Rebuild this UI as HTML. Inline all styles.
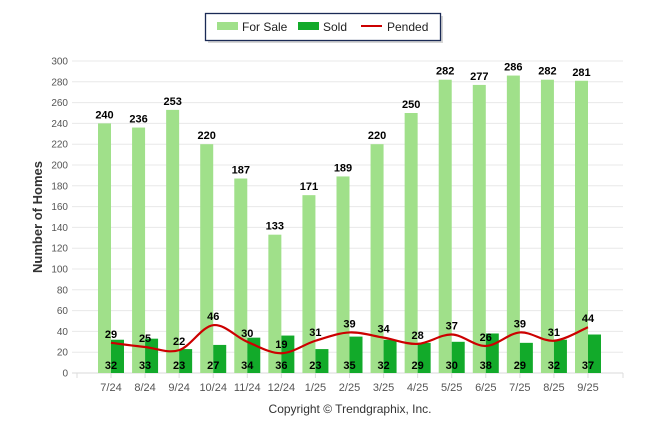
<!DOCTYPE html>
<html><head><meta charset="utf-8"><style>
body{margin:0;background:#fff;}
svg{display:block;font-family:"Liberation Sans",Arial,sans-serif;}
</style></head><body>
<svg id="chart" width="646" height="434" xmlns="http://www.w3.org/2000/svg">
<g>
<rect x="208" y="16" width="235" height="27" fill="#bbb" opacity="0.6"/>
<rect x="205.5" y="13.5" width="235" height="27" fill="#fff" stroke="#1a2a55" stroke-width="1.3"/>
<rect x="217" y="22" width="21" height="8" fill="#a0e08a"/>
<text x="242" y="31" font-size="12" fill="#222">For Sale</text>
<rect x="298" y="22" width="21" height="8" fill="#12aa2a"/>
<text x="323" y="31" font-size="12" fill="#222">Sold</text>
<line x1="361" y1="26" x2="382" y2="26" stroke="#cc0000" stroke-width="2"/>
<text x="387" y="31" font-size="12" fill="#222">Pended</text>
</g>
<g id="grid"></g>
<g id="yaxis"></g>
<g id="xaxis"></g>
<g id="bars"></g>
<g id="line"></g>
<g id="labels"></g>
<text transform="translate(42,217) rotate(-90)" text-anchor="middle" font-size="13" font-weight="bold" fill="#333">Number of Homes</text>
<text x="350" y="413" text-anchor="middle" font-size="12" fill="#333">Copyright © Trendgraphix, Inc.</text>
</svg>
<script>
const categories=["7/24","8/24","9/24","10/24","11/24","12/24","1/25","2/25","3/25","4/25","5/25","6/25","7/25","8/25","9/25"];
const forSale=[240,236,253,220,187,133,171,189,220,250,282,277,286,282,281];
const sold=[32,33,23,27,34,36,23,35,32,29,30,38,29,32,37];
const pended=[29,25,22,46,30,19,31,39,34,28,37,26,39,31,44];
const yTicks=[0,20,40,60,80,100,120,140,160,180,200,220,240,260,280,300];
const NS="http://www.w3.org/2000/svg";
const y0=373,yTop=61,yMax=300,left=72,right=623;
const yS=v=>y0-(v/yMax)*(y0-yTop);
const xS=i=>111+i*(588-111)/(categories.length-1);
function mk(t,a,p,txt){const e=document.createElementNS(NS,t);for(const k in a)e.setAttribute(k,a[k]);if(txt!==undefined)e.textContent=txt;p.appendChild(e);return e;}
const G=id=>document.getElementById(id);
yTicks.forEach(v=>{
 const l=mk('line',{x1:left,x2:right,y1:yS(v),y2:yS(v),stroke:v?'#e8e8e8':'#d8d8d8','stroke-width':1},G('grid'));
 
 
 const t=mk('text',{x:68,y:yS(v)+3.5,'text-anchor':'end','font-size':10,fill:'#555'},G('yaxis'),v);
 
 
});
[77,...categories.map((c,i)=>xS(i)),623].forEach(x=>{
 const tk=mk('line',{x1:x,x2:x,y1:y0,y2:y0+5,stroke:'#ddd'},G('xaxis'));
 
 
});
categories.forEach((c,i)=>{
 const cx=xS(i);
 const t=mk('text',{x:cx,y:391,'text-anchor':'middle','font-size':11,fill:'#555'},G('xaxis'),c);
 
 
 const b1=mk('rect',{x:cx-13,y:yS(forSale[i]),width:13,height:y0-yS(forSale[i]),fill:'#a0e08a'},G('bars'));
 
 
 const b2=mk('rect',{x:cx,y:yS(sold[i]),width:13,height:y0-yS(sold[i]),fill:'#12aa2a'},G('bars'));
 
 
});
// smooth line
const pts=pended.map((v,i)=>[xS(i),yS(v)]);
let d=`M${pts[0][0]},${pts[0][1]}`;
for(let i=0;i<pts.length-1;i++){
 const p0=pts[Math.max(0,i-1)],p1=pts[i],p2=pts[i+1],p3=pts[Math.min(pts.length-1,i+2)];
 const c1=[p1[0]+(p2[0]-p0[0])/6,p1[1]+(p2[1]-p0[1])/6];
 const c2=[p2[0]-(p3[0]-p1[0])/6,p2[1]-(p3[1]-p1[1])/6];
 d+=` C${c1[0]},${c1[1]} ${c2[0]},${c2[1]} ${p2[0]},${p2[1]}`;
}
const pl=mk('path',{d:d,fill:'none',stroke:'#cc0000','stroke-width':2.2},G('line'));


categories.forEach((c,i)=>{
 const cx=xS(i);
 const a=mk('text',{x:cx-6.5,y:yS(forSale[i])-5,'text-anchor':'middle','font-size':11,'font-weight':'bold',fill:'#000'},G('labels'),forSale[i]);
 
 
 const b=mk('text',{x:cx,y:369,'text-anchor':'middle','font-size':11,'font-weight':'bold',fill:'#000'},G('labels'),sold[i]);
 
 
 const p=mk('text',{x:cx,y:yS(pended[i])-5,'text-anchor':'middle','font-size':11,'font-weight':'bold',fill:'#000'},G('labels'),pended[i]);
 
 
});
</script>
</body></html>
